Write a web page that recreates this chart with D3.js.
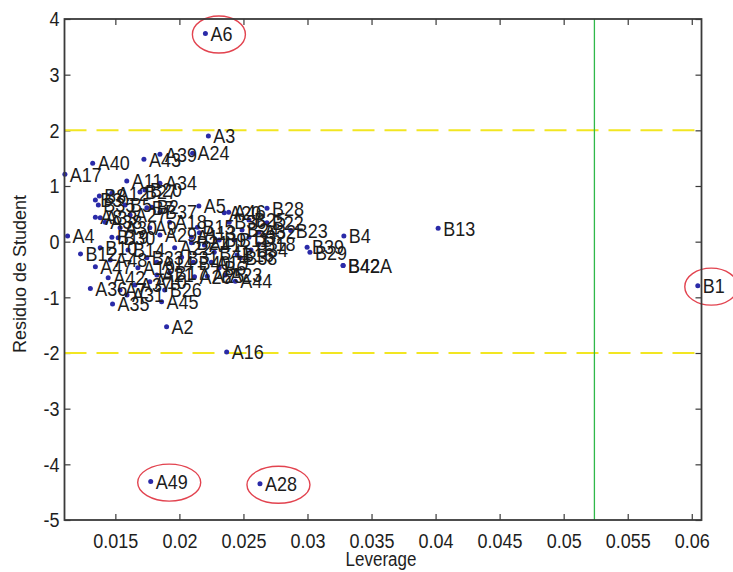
<!DOCTYPE html>
<html>
<head>
<meta charset="utf-8">
<script src="https://cdn.jsdelivr.net/npm/d3@7/dist/d3.min.js"></script>
<style>
  html, body { margin: 0; padding: 0; background: #fff; }
  svg { display: block; font-family: "Liberation Sans", Arial, sans-serif; }
  /* slightly tall glyphs, as in the exported figure */
  .tall { transform-box: fill-box; transform-origin: center; transform: scaleY(1.15); }
</style>
</head>
<body>
<svg id="chart" width="733" height="572"></svg>
<script>
// Observation labels, leverage (h_ii) and studentized residuals
const names = [
  "A6","A3","A24","A39","A43","A40","A17","A11","A34","A5","A46","B28","B23","B4","B13",
  "B39","B29","B42","B42A","B12","B18","B38","A44","A16","A2","A45","A35","A36","A49","A28","B1","A4",
  "B8","B3","B35","B20","A12","B27","B37","A8","A33","A38","B7","B2","A9","A29","B19","A30","B30",
  "A27","A18","B5","B10","A47","B33","A19","A14","A10","A21","A7","A31","B17","A48","B14","A22",
  "B31","A42","A37","B26","A20","B15","A1","B21","A13","B24","B32","B22","B34","B16","B40","A15",
  "A25","A26","B6","B36","B9","A32","B11","A41","B25","A23","B41"
];
const leverage = [
  0.02203,0.02226,0.02103,0.01848,0.01723,0.01323,0.01106,0.01589,0.01848,0.02152,0.02385,0.02684,0.02869,0.03284,0.04020,
  0.02997,0.03019,0.03278,0.03278,0.01228,0.02618,0.02476,0.02437,0.02369,0.01900,0.01861,0.01478,0.01305,0.01776,0.02629,0.06047,0.01127,
  0.01375,0.01344,0.01367,0.01731,0.01473,0.01692,0.01848,0.01344,0.01382,0.01421,0.01746,0.01785,0.01769,0.01848,0.01473,0.01537,0.01522,
  0.01615,0.01924,0.01576,0.01382,0.01344,0.01746,0.01676,0.01824,0.01769,0.01824,0.01537,0.01591,0.01924,0.01460,0.01599,0.01963,
  0.02017,0.01444,0.01653,0.01885,0.02350,0.02141,0.02094,0.02094,0.02156,0.02489,0.02543,0.02683,0.02559,0.02450,0.02110,0.02249,
  0.02218,0.02118,0.02311,0.02389,0.02311,0.02621,0.02427,0.02195,0.02543,0.02358,0.02272
];
const residual = [
  3.74,1.90,1.59,1.57,1.48,1.41,1.21,1.09,1.05,0.64,0.53,0.60,0.20,0.10,0.24,
  -0.10,-0.19,-0.43,-0.43,-0.22,-0.04,-0.29,-0.71,-1.98,-1.53,-1.08,-1.12,-0.84,-4.31,-4.35,-0.79,0.10,
  0.82,0.75,0.66,0.93,0.87,0.89,0.53,0.44,0.43,0.35,0.61,0.62,0.25,0.12,0.08,0.25,0.07,
  0.48,0.35,0.66,-0.11,-0.45,-0.29,-0.47,-0.37,-0.72,-0.60,-0.87,-0.96,-0.56,-0.33,-0.15,-0.11,
  -0.28,-0.65,-0.78,-0.87,0.52,0.26,0.08,-0.02,0.16,0.21,0.08,0.34,-0.15,-0.24,-0.37,-0.37,
  -0.62,-0.63,-0.47,0.35,0.03,0.17,0.03,-0.06,0.39,-0.60,-0.19
];

// Reference limits and outliers to circle
const residualLimits = [-2, 2];
const leverageLimit = 0.0524;
const circled = ["A6", "B1", "A49", "A28"];

// Axis ticks
const xTicks = [0.015, 0.02, 0.025, 0.03, 0.035, 0.04, 0.045, 0.05, 0.055, 0.06];
const xTickLabels = ["0.015","0.02","0.025","0.03","0.035","0.04","0.045","0.05","0.055","0.06"];
const yTicks = [-5, -4, -3, -2, -1, 0, 1, 2, 3, 4];
const yTickLabels = ["-5","-4","-3","-2","-1","0","1","2","3","4"];

const box = { left: 64.5, top: 19, right: 701.5, bottom: 520 };

const svg = d3.select("#chart");

const x = d3.scaleLinear().domain([0.01103, 0.06076]).range([box.left, box.right]);
const y = d3.scaleLinear().domain([-5, 4]).range([box.bottom, box.top]);

const points = names.map((n, i) => ({ name: n, h: leverage[i], r: residual[i] }));

// Axes with inward ticks on all four sides
const axisColor = "#3a3a3a";
function styleAxis(g) {
  g.select(".domain").remove();
  g.selectAll(".tick line").attr("stroke", axisColor).attr("stroke-width", 1.2);
  g.selectAll(".tick text").attr("fill", "#1e1e1e").attr("class", "tall")
    .style("font-size", "18px")
    .style("font-family", "'Liberation Sans', Arial, sans-serif");
}

svg.append("g")
  .attr("transform", `translate(0,${box.bottom})`)
  .call(d3.axisBottom(x).tickValues(xTicks).tickFormat((d, i) => xTickLabels[i])
    .tickSizeInner(-6).tickSizeOuter(0).tickPadding(14))
  .call(styleAxis);

svg.append("g")
  .attr("transform", `translate(0,${box.top})`)
  .call(d3.axisTop(x).tickValues(xTicks).tickFormat("").tickSizeInner(-6).tickSizeOuter(0))
  .call(styleAxis);

svg.append("g")
  .attr("transform", `translate(${box.left},0)`)
  .call(d3.axisLeft(y).tickValues(yTicks).tickFormat((d, i) => yTickLabels[i])
    .tickSizeInner(-6).tickSizeOuter(0).tickPadding(5))
  .call(styleAxis);

svg.append("g")
  .attr("transform", `translate(${box.right},0)`)
  .call(d3.axisRight(y).tickValues(yTicks).tickFormat("").tickSizeInner(-6).tickSizeOuter(0))
  .call(styleAxis);

// Residual limits (dashed yellow) and leverage cut-off (green)
svg.append("g").selectAll("line.limit")
  .data(residualLimits)
  .join("line")
  .attr("x1", box.left).attr("x2", box.right)
  .attr("y1", d => y(d)).attr("y2", d => y(d))
  .attr("stroke", "#f2e622").attr("stroke-width", 2)
  .attr("stroke-dasharray", "22,10");

svg.append("line")
  .attr("x1", x(leverageLimit)).attr("x2", x(leverageLimit))
  .attr("y1", box.top).attr("y2", box.bottom)
  .attr("stroke", "#2fb84a").attr("stroke-width", 1.3);

// Observations
svg.append("g").selectAll("circle")
  .data(points)
  .join("circle")
  .attr("cx", d => x(d.h)).attr("cy", d => y(d.r))
  .attr("r", 2.5)
  .attr("fill", "#2a2aa8");

const labels = svg.append("g").selectAll("text")
  .data(points)
  .join("text")
  .attr("class", "tall")
  .attr("x", d => x(d.h) + 5)
  .attr("y", d => y(d.r))
  .attr("dy", "0.35em")
  .attr("fill", "#1c1c1c")
  .style("font-size", "18px")
  .text(d => d.name);

// Red rings around the flagged observations
labels.filter(d => circled.includes(d.name)).each(function (d) {
  const bb = this.getBBox();
  const x0 = x(d.h);
  const right = bb.x + bb.width;
  svg.append("ellipse")
    .attr("cx", (x0 + right) / 2)
    .attr("cy", y(d.r) + 1)
    .attr("rx", (right - x0) / 2 + 13)
    .attr("ry", 18.5)
    .attr("fill", "none")
    .attr("stroke", "#e2434f")
    .attr("stroke-width", 1.4);
});

// Outer frame
svg.append("rect")
  .attr("x", box.left).attr("y", box.top)
  .attr("width", box.right - box.left).attr("height", box.bottom - box.top)
  .attr("fill", "none").attr("stroke", axisColor).attr("stroke-width", 1.8);

// Axis titles
svg.append("text")
  .attr("class", "tall")
  .attr("x", (box.left + box.right) / 2 - 2)
  .attr("y", 559)
  .attr("dy", "0.35em")
  .attr("text-anchor", "middle")
  .attr("fill", "#1e1e1e")
  .style("font-size", "17px")
  .text("Leverage");

svg.append("text")
  .attr("transform", `translate(20,274) rotate(-90)`)
  .attr("dy", "0.35em")
  .attr("text-anchor", "middle")
  .attr("fill", "#1e1e1e")
  .style("font-size", "18px")
  .text("Residuo de Student");
</script>
</body>
</html>
